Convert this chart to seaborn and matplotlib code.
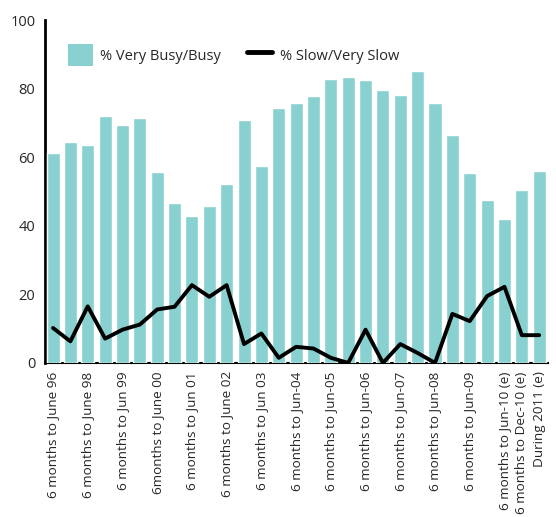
import numpy as np
import seaborn as sns
import matplotlib.pyplot as plt
from matplotlib.patches import Patch
from matplotlib.lines import Line2D

# =========================
# Data
# =========================
busy = [61.2, 64.4, 63.6, 72.0, 69.4, 71.4, 55.7, 46.6, 42.8, 45.7,
        52.2, 70.9, 57.4, 74.4, 75.8, 77.9, 82.8, 83.4, 82.5, 79.6,
        78.2, 85.2, 75.8, 66.5, 55.4, 47.5, 41.9, 50.4, 56.0]
slow = [10.2, 6.3, 16.5, 7.1, 9.7, 11.2, 15.6, 16.4, 22.7, 19.3,
        22.7, 5.5, 8.6, 1.5, 4.7, 4.2, 1.5, 0.0, 9.7, 0.0,
        5.5, 2.9, 0.0, 14.3, 12.2, 19.5, 22.2, 8.1, 8.1]
tick_labels = ["6 months to June 96", "", "6 months to June 98", "",
               "6 months to Jun 99", "", "6months to June 00", "",
               "6 months to Jun 01", "", "6 months to June 02", "",
               "6 months to Jun 03", "", "6 months to Jun-04", "",
               "6 months to Jun-05", "", "6 months to Jun-06", "",
               "6 months to Jun-07", "", "6 months to Jun-08", "",
               "6 months to Jun-09", "", "6 months to Jun-10 (e)",
               "6 months to Dec-10 (e)", "During 2011 (e)"]

BAR_COLOR = "#88D1D0"
idx = np.arange(len(busy))

# =========================
# Plot
# =========================
sns.set_style("white")
plt.rcParams["font.family"] = ["Open Sans", "DejaVu Sans"]

fig = plt.figure(figsize=(5.56, 5.17), dpi=100)
ax = fig.add_axes([0.081, 0.298, 0.905, 0.663])

sns.barplot(x=idx, y=busy, color=BAR_COLOR, width=0.75, saturation=1,
            ax=ax, zorder=3)
sns.lineplot(x=idx, y=slow, color="black", linewidth=2.8, ax=ax, zorder=4)

ax.set_xlim(-0.46, 28.52)
ax.set_ylim(0, 100)
ax.set_yticks([0, 20, 40, 60, 80, 100])
ax.set_xticks(idx)
ax.set_xticklabels(tick_labels, rotation=90, fontsize=9.7)
ax.tick_params(axis="y", length=0, pad=7, labelsize=10.5)
ax.tick_params(axis="x", length=0, pad=6)
ax.set_xlabel("")
ax.set_ylabel("")

for side in ["top", "right"]:
    ax.spines[side].set_visible(False)
ax.spines["left"].set_color("black")
ax.spines["left"].set_linewidth(2)
ax.spines["bottom"].set_color("black")
ax.spines["bottom"].set_linewidth(1.5)

handles = [Patch(facecolor=BAR_COLOR, edgecolor="none"),
           Line2D([0], [0], color="black", linewidth=3.5)]
ax.legend(handles, ["% Very Busy/Busy", "% Slow/Very Slow"], ncol=2,
          frameon=False, loc="center left", bbox_to_anchor=(0.02, 0.898),
          fontsize=10.5, handlelength=1.7, handleheight=2.0,
          handletextpad=0.5, columnspacing=1.8)

plt.savefig("out.png", dpi=100)
plt.close()
